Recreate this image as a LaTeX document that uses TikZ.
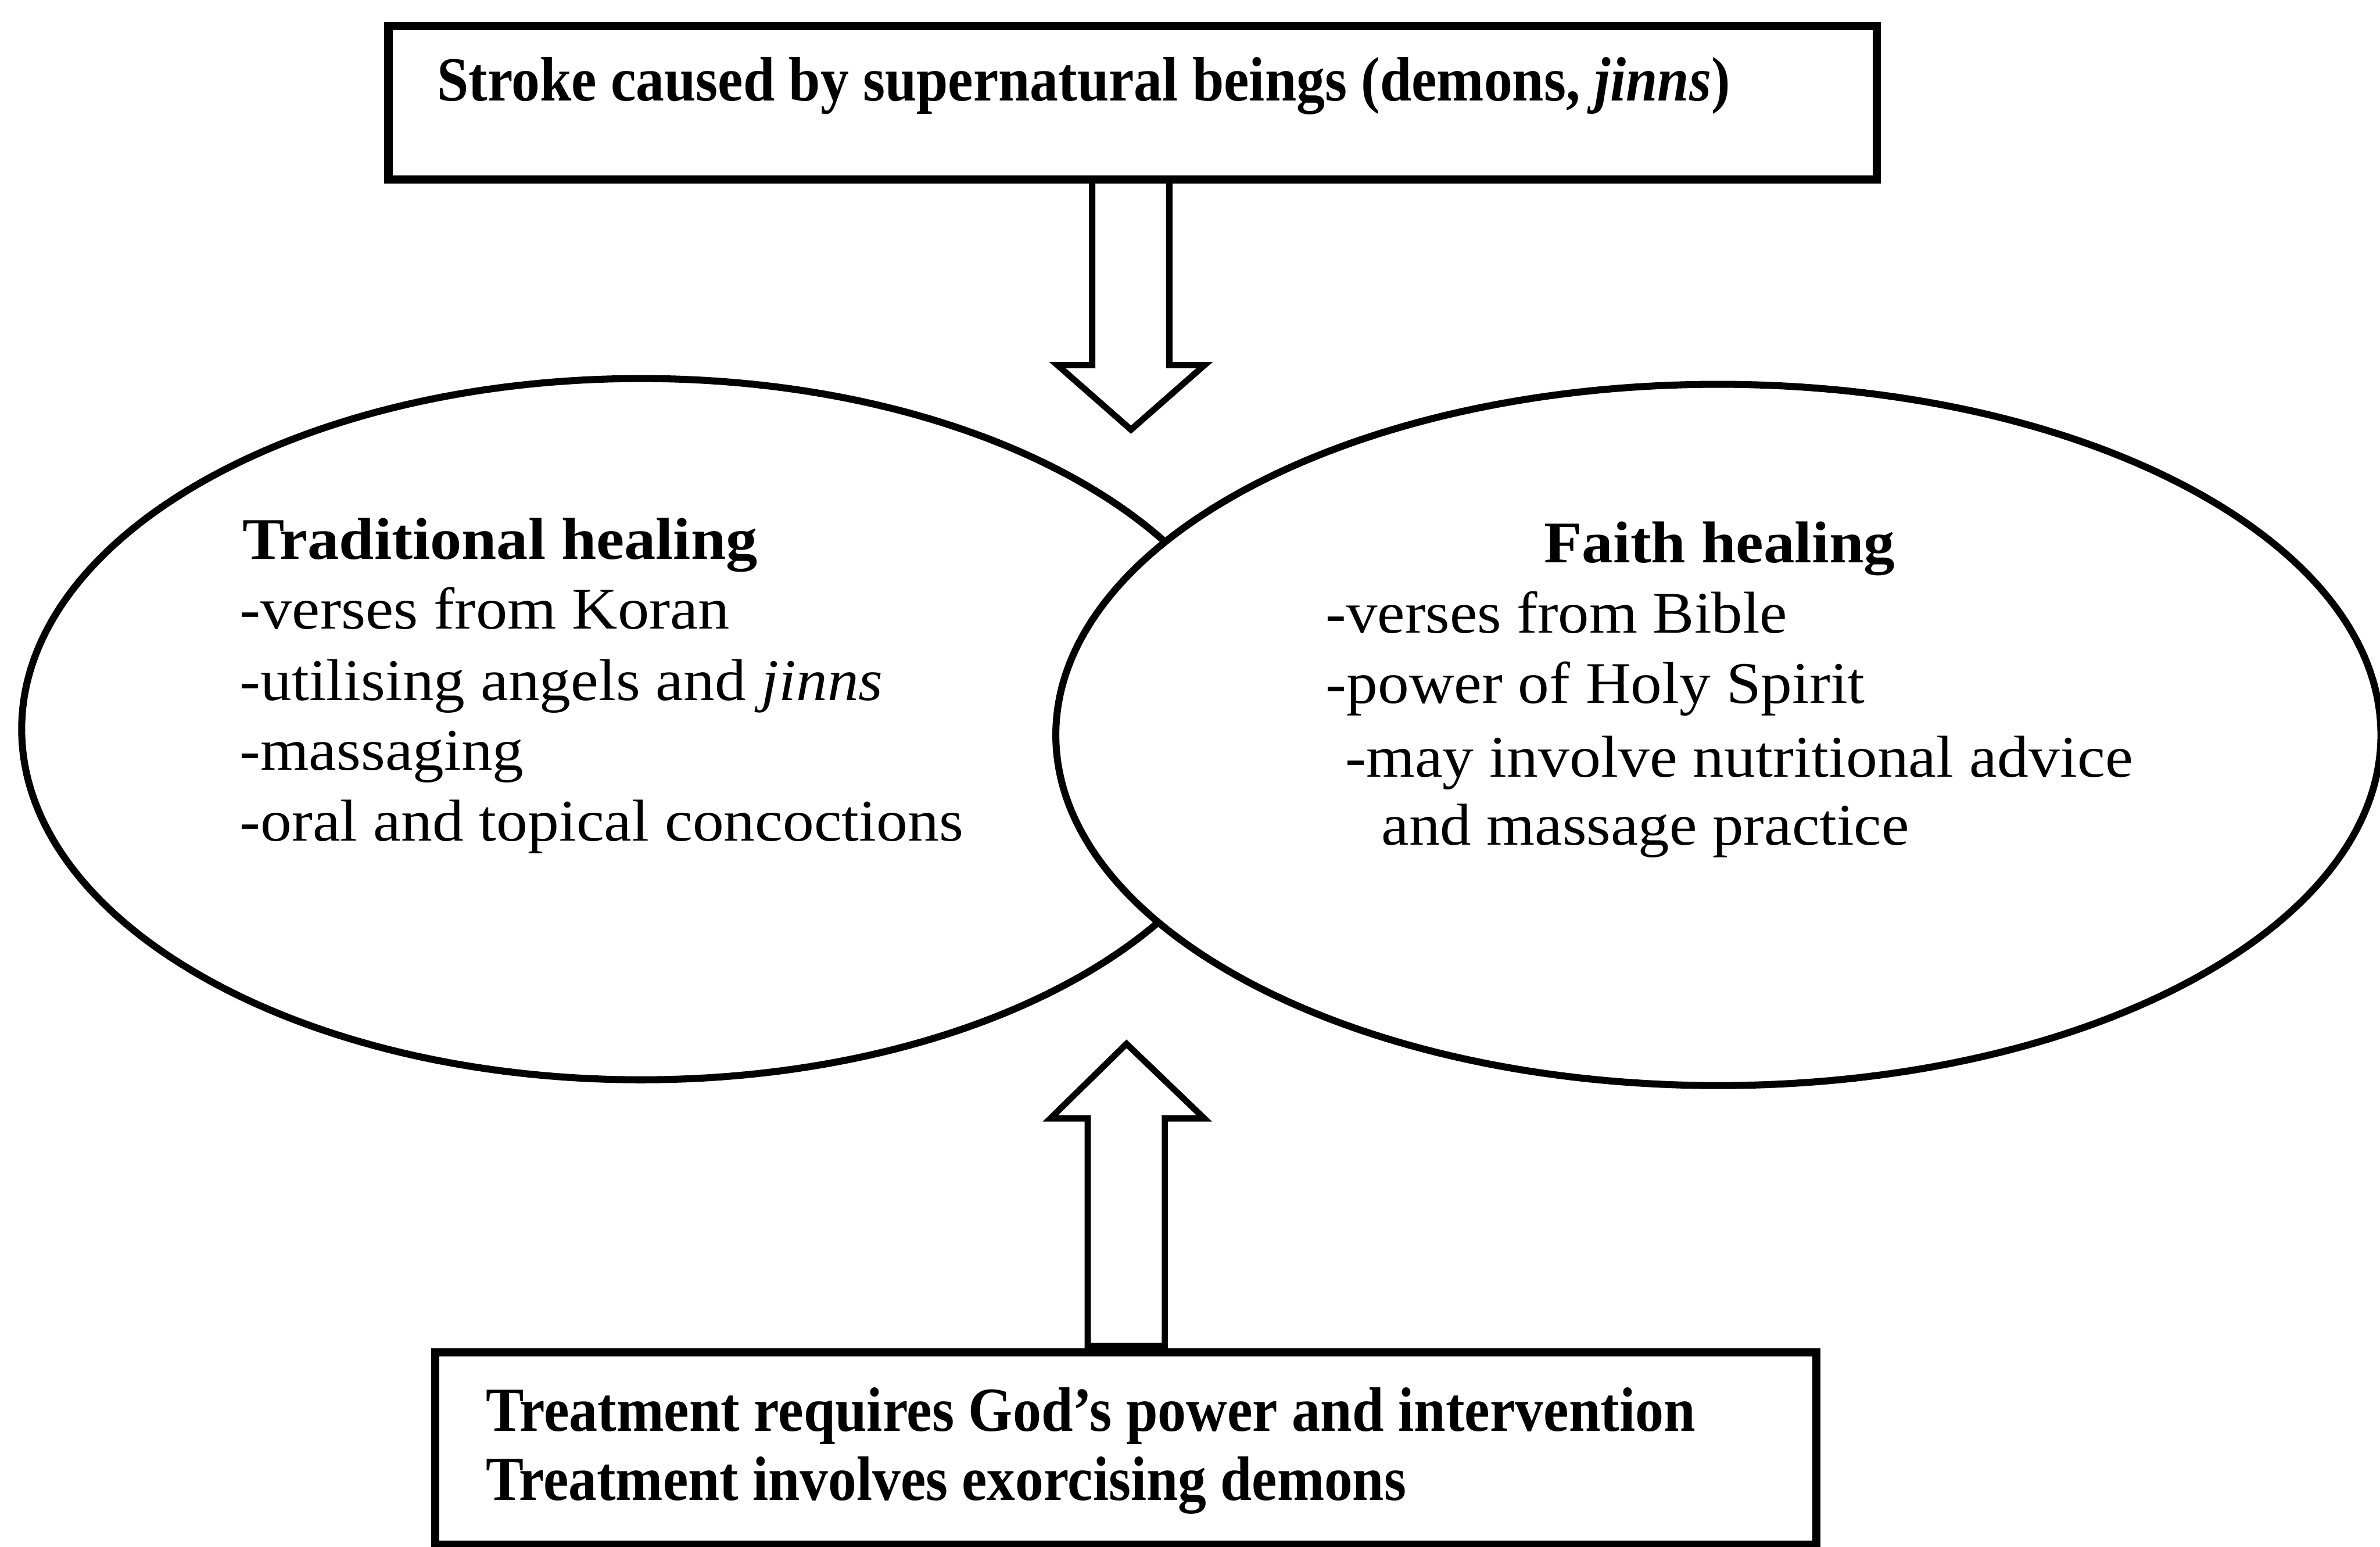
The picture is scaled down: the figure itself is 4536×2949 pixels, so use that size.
\documentclass[tikz,border=0pt]{standalone}
\usepackage{fontspec}
\setmainfont{Liberation Serif}
\usepackage{graphicx}
\usetikzlibrary{shapes.geometric,calc}

% set a line in its natural size, then squeeze it horizontally to a given width
\newsavebox\fitbox
\newcommand\fitto[2]{%
  \sbox\fitbox{#2}%
  \edef\fitwd{\the\wd\fitbox}%
  \pgfmathsetmacro\fitfac{#1/\fitwd}%
  \scalebox{\fitfac}[1]{\usebox\fitbox}}

\begin{document}
\begin{tikzpicture}[x=0.01cm,y=-0.01cm,
  boxline/.style={draw, line width=4.5pt, inner sep=0pt, outer sep=0pt},
  ovalline/.style={ellipse, draw, line width=3.8pt, fill=white, inner sep=0pt, outer sep=0pt},
  blockarrow/.style={draw, line width=3.4pt, fill=white, line join=miter},
  txt/.style={anchor=base west, inner sep=0pt, outer sep=0pt, font=\fontsize{32}{38}\selectfont},
  boxtxt/.style={anchor=base west, inner sep=0pt, outer sep=0pt, font=\fontsize{34}{40}\selectfont\bfseries}]
\useasboundingbox (0,0) rectangle (4536,2949);
\fill[white] (0,0) rectangle (4536,2949);

% the two healing traditions; the right oval lies over the left one
\node[ovalline, minimum width=23.6cm, minimum height=13.36cm] (trad) at (1222,1390) {};
\node[ovalline, minimum width=25.24cm, minimum height=13.36cm] (faith) at (3275,1401) {};

% cause and treatment boxes
\node[boxline, minimum width=28.35cm, minimum height=2.92cm] (cause) at (2158.5,196) {};
\node[boxline, minimum width=26.31cm, minimum height=3.67cm] (treat) at (2145.5,2761.5) {};

% hollow block arrows pointing at the ovals
\draw[blockarrow] ($(cause.south)+(-77,0)$) -- ++(0,354) -- ++(-66,0) -- ++(140,123)
  -- ++(140,-123) -- ++(-67,0) -- ++(0,-354) -- cycle;
\draw[blockarrow] ($(treat.north)+(-72.5,-12)$) -- ++(0,-434) -- ++(-71,0) -- ++(145,-142)
  -- ++(148,142) -- ++(-75,0) -- ++(0,434) -- cycle;
\draw[line width=4.5pt] (cause.south west) -- (cause.south east);
\draw[line width=4.5pt] (treat.north west) -- (treat.north east);

% box texts
\node[boxtxt] (causetxt) at (833,192) {\fitto{24.63cm}{Stroke caused by supernatural beings (demons, \textit{jinns})}};
\node[boxtxt] (treatA) at (926,2728) {\fitto{23.04cm}{Treatment requires God’s power and intervention}};
\node[boxtxt] (treatB) at (926,2860) {\fitto{17.53cm}{Treatment involves exorcising demons}};

% traditional healing
\node[txt] (tradT) at (462,1066) {\fitto{9.81cm}{\bfseries Traditional healing}};
\node[txt] (trad1) at (457,1199) {\fitto{9.33cm}{-verses from Koran}};
\node[txt] (trad2) at (457,1335) {\fitto{12.25cm}{-utilising angels and \textit{jinns}}};
\node[txt] (trad3) at (457,1468) {\fitto{5.41cm}{-massaging}};
\node[txt] (trad4) at (457,1603) {\fitto{13.78cm}{-oral and topical concoctions}};

% faith healing
\node[txt] (faithT) at (2943,1073) {\fitto{6.68cm}{\bfseries Faith healing}};
\node[txt] (faith1) at (2527,1207) {\fitto{8.79cm}{-verses from Bible}};
\node[txt] (faith2) at (2527,1341) {\fitto{10.27cm}{-power of Holy Spirit}};
\node[txt] (faith3) at (2564,1481) {\fitto{15.00cm}{-may involve nutritional advice}};
\node[txt] (faith4) at (2633,1611) {\fitto{10.05cm}{and massage practice}};
\end{tikzpicture}
\end{document}
